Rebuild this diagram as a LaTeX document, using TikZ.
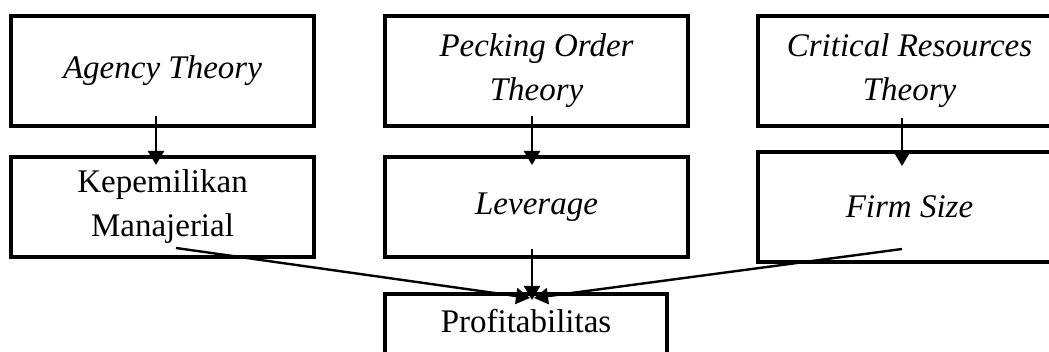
\documentclass[tikz,border=0pt]{standalone}
\usepackage{fontspec}
\setmainfont{Liberation Serif}
\usetikzlibrary{arrows.meta}
\begin{document}
\begin{tikzpicture}[x=0.5pt,y=-0.5pt,
  box/.style={draw,line width=2pt,minimum width=151.5pt,minimum height=55pt,
    align=center,font=\fontsize{16.5}{22}\selectfont},
  itbox/.style={box,font=\fontsize{16.5}{22}\selectfont\itshape},
  arr/.style={line width=1.2pt,-{Triangle[length=7pt,width=8pt]}}]
\useasboundingbox (0,0) rectangle (1049,352);
\clip (0,0) rectangle (1049,352);
% theories
\node[itbox] (agency) at (162.5,71) {Agency Theory};
\node[itbox] (pecking) at (536.5,71) {Pecking Order\\Theory};
\node[itbox] (critical) at (909.5,71) {Critical Resources\\Theory};
% variables
\node[box,minimum height=50pt] (kepemilikan) at (162.5,207) {Kepemilikan\\Manajerial};
\node[itbox,minimum height=50pt] (leverage) at (536.5,207) {Leverage};
\node[itbox] (firmsize) at (909.5,207) {Firm Size};
\node[box,anchor=north,minimum width=141pt,minimum height=0pt,text height=11pt,
  text depth=13pt,inner ysep=8pt] (profit) at (526,292) {Profitabilitas};
% arrows
\draw[arr] ([xshift=-3.25pt,yshift=6pt]agency.south) -- ([xshift=-3.25pt,yshift=-5pt]kepemilikan.north);
\draw[arr] ([xshift=-2.25pt,yshift=6pt]pecking.south) -- ([xshift=-2.25pt,yshift=-5pt]leverage.north);
\draw[arr] ([xshift=-3.75pt,yshift=5pt]critical.south) -- ([xshift=-3.75pt,yshift=-8pt]firmsize.north);
\draw[arr] ([xshift=6.75pt,yshift=5.5pt]kepemilikan.south) -- ([xshift=2pt,yshift=-3pt]profit.north);
\draw[arr] ([xshift=-2.25pt,yshift=5pt]leverage.south) -- ([xshift=3pt,yshift=-4pt]profit.north);
\draw[arr] ([xshift=-3.75pt,yshift=7.5pt]firmsize.south) -- ([xshift=4pt,yshift=-3pt]profit.north);
\end{tikzpicture}
\end{document}
